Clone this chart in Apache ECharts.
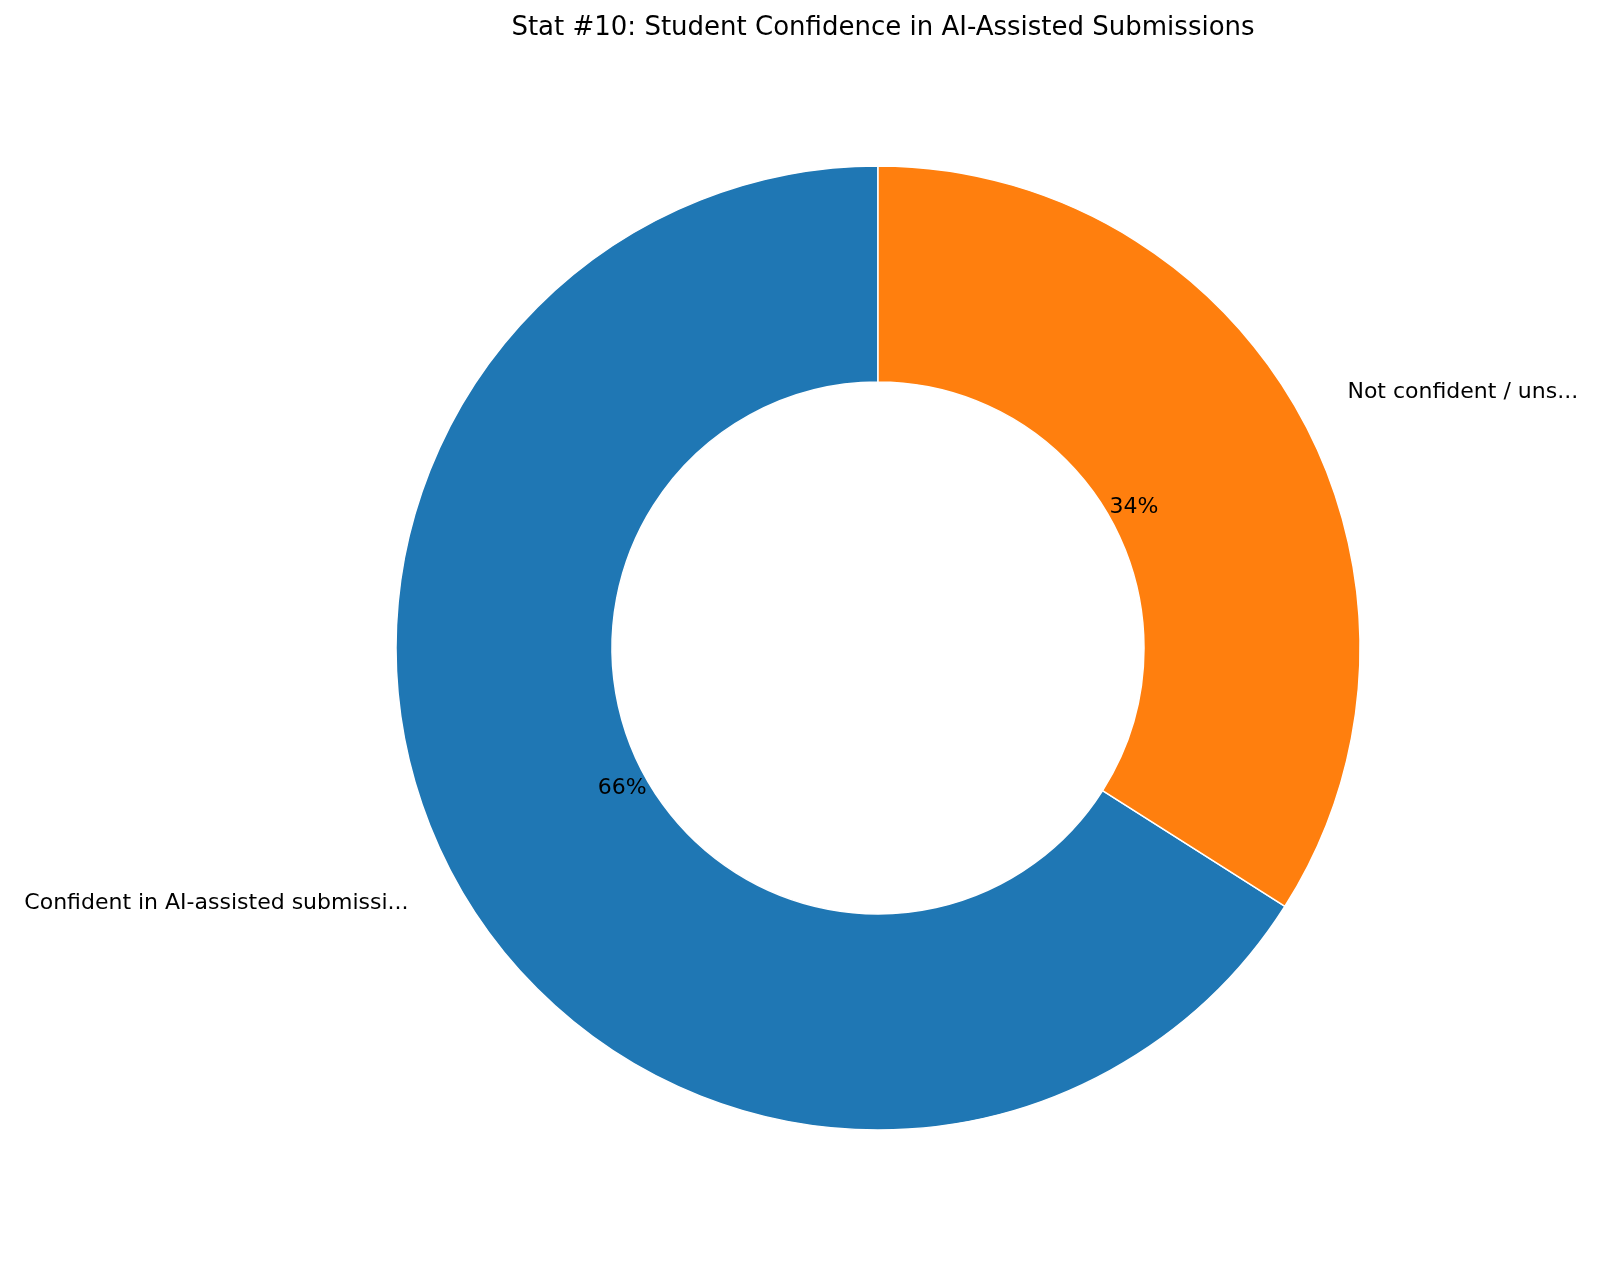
<!DOCTYPE html>
<html><head><meta charset="utf-8">
<script src="https://cdn.jsdelivr.net/npm/echarts@6/dist/echarts.min.js"></script>
<style>html,body{margin:0;padding:0;background:#fff}#c{width:1600px;height:1266px}</style>
</head><body><div id="c"></div>
<script>
const categories = ['Confident in AI-assisted submissions', 'Not confident / unsure'];
const values = [66, 34];
const colors = ['#1f77b4', '#ff7f0e'];
const data = categories.map((n, i) => ({name: n, value: values[i], itemStyle: {color: colors[i]}}));
const chart = echarts.init(document.getElementById('c'));
const font = 'DejaVu Sans';
chart.setOption({
  animation: false,
  title: {text: 'Stat #10: Student Confidence in AI-Assisted Submissions', left: 878, top: 10, textAlign: 'center',
    textStyle: {fontFamily: font, fontSize: 26, fontWeight: 'normal', color: '#000'}},
  series: [
    {type: 'pie', center: [878, 648], radius: [266, 482], startAngle: 90, clockwise: false,
     itemStyle: {borderColor: '#fff', borderWidth: 1.5},
     label: {show: true, position: 'outside', formatter: '{b}', fontFamily: font, fontSize: 22, color: '#000'},
     labelLine: {show: false, length: 48, length2: 0},
     emphasis: {disabled: true}, data: data},
    {type: 'pie', center: [878, 648], radius: [0, 578], startAngle: 90, clockwise: false, silent: true,
     itemStyle: {color: 'transparent', borderWidth: 0},
     label: {show: true, position: 'inside', formatter: p => p.value + '%', fontFamily: font, fontSize: 22, color: '#000'},
     labelLine: {show: false}, data: categories.map((n, i) => ({name: n, value: values[i]}))}
  ]
});
</script></body></html>
